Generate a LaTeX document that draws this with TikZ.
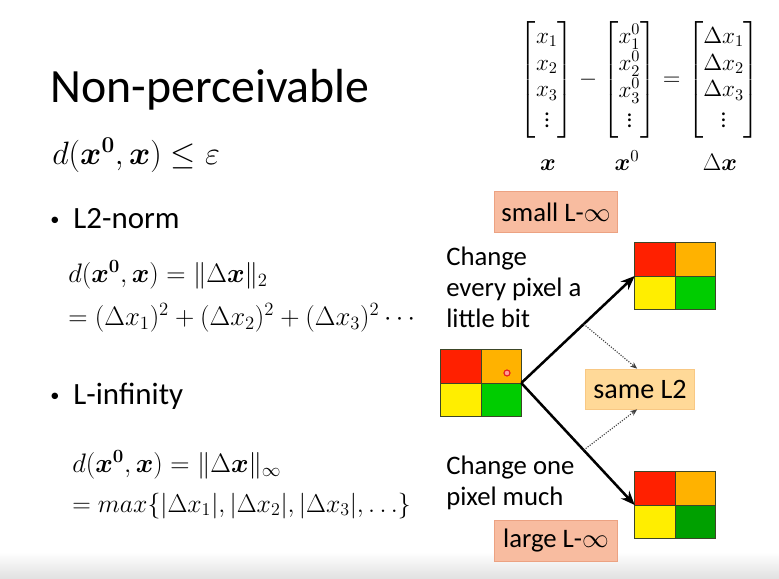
\RequirePackage{fix-cm}
\documentclass[tikz,border=0pt]{standalone}
\usepackage{amsmath}
\usepackage[no-math]{fontspec}
\setmainfont{Carlito}
\usepackage{tikz}
\usetikzlibrary{arrows.meta,positioning,calc}
\definecolor{pixRed}{RGB}{255,32,0}
\definecolor{pixOrange}{RGB}{255,178,0}
\definecolor{pixYellow}{RGB}{255,238,0}
\definecolor{pixGreen}{RGB}{0,204,0}
\definecolor{pixDarkGreen}{RGB}{0,160,0}
\definecolor{pixLine}{RGB}{60,70,40}
\definecolor{salmonFill}{RGB}{248,188,160}
\definecolor{salmonLine}{RGB}{236,162,130}
\definecolor{sandFill}{RGB}{255,217,152}
\definecolor{sandLine}{RGB}{248,200,132}
\newcommand{\smallbullet}{\raisebox{1.5pt}{\fontsize{13}{13}\selectfont\textbullet}\hspace{10pt}}
\tikzset{
	titletxt/.style={inner sep=0pt, font=\fontsize{34}{40}\selectfont},
	bodytxt/.style={inner sep=0pt, font=\fontsize{22}{26}\selectfont},
	eqtxt/.style={inner sep=0pt, font=\fontsize{19}{23}\selectfont},
	vectxt/.style={inner sep=0pt, font=\fontsize{16.5}{19}\selectfont},
	sidetxt/.style={inner sep=0pt, align=left, font=\fontsize{19}{22}\selectfont},
	normbox/.style={
		fill=salmonFill,
		draw=salmonLine,
		minimum width=3.075cm,
		minimum height=1.025cm,
		font=\fontsize{19}{22}\selectfont
	},
	samebox/.style={
		fill=sandFill,
		draw=sandLine,
		minimum width=2.725cm,
		minimum height=1cm,
		font=\fontsize{20}{24}\selectfont
	},
	gridbox/.style={inner sep=0pt, minimum width=2cm, minimum height=1.64cm},
	gridline/.style={draw=pixLine, line width=0.6pt},
	cursordot/.style={circle, draw={rgb,255:red,230;green,30;blue,30}, fill={rgb,255:red,255;green,160;blue,150}, line width=0.8pt, minimum size=0.15cm, inner sep=0pt},
	bigarr/.style={-{Stealth[length=10pt, width=8pt]}, line width=1.8pt},
	dotarr/.style={-{Stealth[length=5pt, width=4pt]}, densely dotted, line width=0.8pt, black!75}
}
\newcommand{\pixgrid}[3]{%
	\node[gridbox] (#1) at (#2) {};
	\fill[pixRed] (#1.north west) rectangle (#1.center);
	\fill[pixOrange] (#1.north) rectangle (#1.east);
	\fill[pixYellow] (#1.west) rectangle (#1.south);
	\fill[#3] (#1.center) rectangle (#1.south east);
	\draw[gridline] (#1.north) -- (#1.south) (#1.west) -- (#1.east);
	\draw[gridline] (#1.north west) rectangle (#1.south east);
}

\begin{document}
\begin{tikzpicture}[x=0.025cm, y=-0.025cm]
	\useasboundingbox (0,0) rectangle (779,579);
	\shade[top color=white, bottom color=black!12] (0,552) rectangle (779,579);
	\node[titletxt, anchor=base west] (title) at (50,102) {Non-perceivable};
	\node[eqtxt, font=\fontsize{23}{27}\selectfont, anchor=base west] (dcond) at (52,164) {$d(\boldsymbol{x}^{\mathbf{0}},\boldsymbol{x})\le\varepsilon$};
	\node[bodytxt, anchor=base west] (ltwo) at (50,228) {\smallbullet L2-norm};
	\node[eqtxt, anchor=base west] (ltwoa) at (68,282) {$d(\boldsymbol{x}^{\mathbf{0}},\boldsymbol{x})=\lVert\Delta\boldsymbol{x}\rVert_2$};
	\node[eqtxt, anchor=base west] (ltwob) at (68,325) {$=(\Delta x_1)^2+(\Delta x_2)^2+(\Delta x_3)^2\cdots$};
	\node[bodytxt, anchor=base west] (linf) at (50,404) {\smallbullet L-infinity};
	\node[eqtxt, anchor=base west] (linfa) at (72,472) {$d(\boldsymbol{x}^{\mathbf{0}},\boldsymbol{x})=\lVert\Delta\boldsymbol{x}\rVert_\infty$};
	\node[eqtxt, font=\fontsize{18.3}{22}\selectfont, anchor=base west] (linfb) at (72,512) {$=max\{|\Delta x_1|,|\Delta x_2|,|\Delta x_3|,\ldots\}$};
	\node[vectxt] (vecs) at (640,80) {$\begin{bmatrix}x_1\\x_2\\x_3\\\vdots\end{bmatrix}-\begin{bmatrix}x_1^0\\x_2^0\\x_3^0\\\vdots\end{bmatrix}=\begin{bmatrix}\Delta x_1\\\Delta x_2\\\Delta x_3\\\vdots\end{bmatrix}$};
	\node[vectxt, font=\fontsize{17}{20}\selectfont, anchor=base] (xlab) at (548,170) {$\boldsymbol{x}$};
	\node[vectxt, font=\fontsize{17}{20}\selectfont, anchor=base] (xzlab) at (627,170) {$\boldsymbol{x}^{0}$};
	\node[vectxt, font=\fontsize{17}{20}\selectfont, anchor=base] (dxlab) at (720,170) {$\Delta\boldsymbol{x}$};
	\node[normbox] (small) at (556,212) {small L-$\infty$};
	\node[normbox] (large) at (556,541) {large L-$\infty$};
	\node[samebox] (same) at (640,389) {same L2};
	\node[sidetxt, anchor=north west] (every) at (446,247) {Change\\every pixel a\\little bit};
	\node[sidetxt, anchor=north west] (one) at (446,456) {Change one\\pixel much};
	\pixgrid{src}{481,383}{pixGreen}
	\pixgrid{top}{675,276}{pixGreen}
	\pixgrid{bot}{675,505}{pixDarkGreen}
	\node[cursordot] (dot) at (507,373) {};
	\draw[bigarr] (src.east) -- coordinate[pos=0.55] (mu) (top.west);
	\draw[bigarr] (src.east) -- coordinate[pos=0.55] (md) (bot.west);
	\draw[dotarr] (mu) -- ([xshift=-2pt]same.north);
	\draw[dotarr] (md) -- ([xshift=-2pt]same.south);
\end{tikzpicture}
\end{document}
